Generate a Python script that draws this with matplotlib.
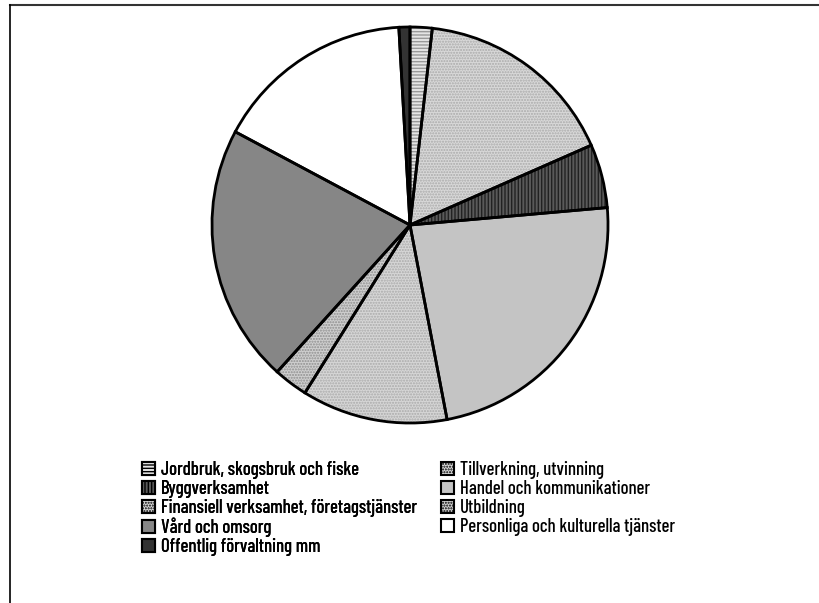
import matplotlib.pyplot as plt
from matplotlib.patches import Patch
from matplotlib import font_manager

names = set(f.name for f in font_manager.fontManager.ttflist)
for fam in ["Barlow Condensed", "Roboto Condensed", "Archivo Narrow"]:
    if fam in names:
        plt.rcParams["font.family"] = [fam, "DejaVu Sans"]
        break
plt.rcParams["font.weight"] = "medium"

labels = [
    "Jordbruk, skogsbruk och fiske",
    "Tillverkning, utvinning",
    "Byggverksamhet",
    "Handel och kommunikationer",
    "Finansiell verksamhet, företagstjänster",
    "Utbildning",
    "Vård och omsorg",
    "Personliga och kulturella tjänster",
    "Offentlig förvaltning mm",
]
shares = [1.8, 16.6, 5.2, 23.4, 11.9, 2.8, 21.1, 16.3, 0.9]

faces = ["#e4e4e4", "#d8d8d8", "#5a5a5a", "#c4c4c4", "#d6d6d6",
         "#cfcfcf", "#868686", "#ffffff", "#333333"]
hatches = ["-----", "......", "|||||", None, "......", "......", None, None, None]
hatch_cols = ["#999999", "#aaaaaa", "#222222", "#c4c4c4", "#aaaaaa",
              "#8f8f8f", "#868686", "#ffffff", "#333333"]

fig = plt.figure(figsize=(8.2, 6.03), dpi=100)
ax = fig.add_axes([210 / 820, 178 / 603, 400 / 820, 400 / 603])

wedges, _ = ax.pie(shares, startangle=90, counterclock=False, radius=1,
                   colors=faces, wedgeprops=dict(linewidth=0))
for w, h, hc in zip(wedges, hatches, hatch_cols):
    w.set_edgecolor(hc)
    if h:
        w.set_hatch(h)
ax.pie(shares, startangle=90, counterclock=False, radius=1,
       colors=["none"] * len(shares),
       wedgeprops=dict(linewidth=2, edgecolor="black", fill=False))
ax.set_xlim(-1.01, 1.01)
ax.set_ylim(-1.01, 1.01)
ax.set_aspect("equal")

handles = []
for f, h, hc in zip(faces, hatches, hatch_cols):
    handles.append(Patch(facecolor=f, edgecolor="black", hatch=h, linewidth=1.5))

# two legend columns, entries read row by row
leg_kw = dict(loc="upper left", frameon=False, fontsize=13.5, handlelength=0.7,
              handleheight=0.7, handletextpad=0.3, labelspacing=0.05,
              borderpad=0, borderaxespad=0)
col1 = [0, 2, 4, 6, 8]
col2 = [1, 3, 5, 7]
leg1 = fig.legend([handles[i] for i in col1], [labels[i] for i in col1],
                  bbox_to_anchor=(142 / 820, 1 - 461 / 603), **leg_kw)
fig.add_artist(leg1)
fig.legend([handles[i] for i in col2], [labels[i] for i in col2],
           bbox_to_anchor=(441 / 820, 1 - 461 / 603), **leg_kw)

# frame lines at top and left
fig.add_artist(plt.Line2D([10 / 820, 1], [1 - 5 / 603] * 2, color="#333333", lw=1.5))
fig.add_artist(plt.Line2D([10 / 820] * 2, [0, 1 - 5 / 603], color="black", lw=1.2))

fig.savefig("out.png", dpi=100)
